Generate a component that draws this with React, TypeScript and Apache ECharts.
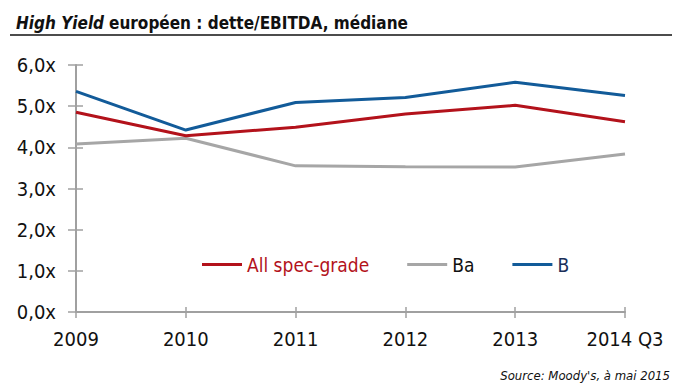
import React, { useEffect, useRef } from "react";
import * as echarts from "echarts";

const categories = ["2009", "2010", "2011", "2012", "2013", "2014 Q3"];
const allSpecGrade = [4.85, 4.28, 4.49, 4.81, 5.02, 4.62];
const ba = [4.08, 4.22, 3.55, 3.53, 3.52, 3.84];
const b = [5.36, 4.42, 5.09, 5.21, 5.58, 5.26];
const seriesNames = ["All spec-grade", "Ba", "B"];
const seriesColors = ["#b3121b", "#a6a6a6", "#125b99"];
const legendTextColors = ["#b3121b", "#111111", "#1a2f5a"];

const FONT = "'Liberation Sans Narrow', 'DejaVu Sans Condensed', 'Roboto', sans-serif";

export default function App() {
  const ref = useRef<HTMLDivElement>(null);
  useEffect(() => {
    if (!ref.current) return;
    const chart = echarts.init(ref.current, undefined, { renderer: "svg" });
    const axisColor = "#a0a0a0";
    const yCommon = {
      type: "value" as const,
      min: 0,
      max: 6,
      interval: 1,
      splitLine: { show: false },
    };
    const datasets = [allSpecGrade, ba, b];
    chart.setOption({
      animation: false,
      backgroundColor: "#ffffff",
      grid: { left: 76, right: 57, top: 65, bottom: 80, containLabel: false },
      title: {
        text: "{i|High Yield} {n|européen : dette/EBITDA, médiane}",
        left: 11,
        top: 9,
        textStyle: {
          rich: {
            i: { fontFamily: FONT, fontSize: 17, fontStyle: "italic", fontWeight: "bold", color: "#111" },
            n: { fontFamily: FONT, fontSize: 17, fontWeight: "bold", color: "#111" },
          },
        },
      },
      graphic: [
        { type: "line", shape: { x1: 10, y1: 35, x2: 672, y2: 35 }, style: { stroke: "#111", lineWidth: 1.5 } },
        {
          type: "text",
          right: 12,
          top: 369,
          style: { text: "Source: Moody's, à mai 2015", font: `italic 13px ${FONT}`, fill: "#111" },
        },
      ],
      legend: {
        left: 197,
        top: 250,
        icon: "rect",
        itemWidth: 40,
        itemHeight: 3,
        itemGap: 38,
        textStyle: { fontFamily: FONT, fontSize: 19 },
        data: seriesNames.map((n, i) => ({ name: n, textStyle: { color: legendTextColors[i] } })),
      },
      xAxis: [
        {
          type: "category",
          data: categories,
          boundaryGap: false,
          axisLine: { lineStyle: { color: axisColor, width: 2 } },
          axisTick: { show: true, length: 6, lineStyle: { color: axisColor, width: 1.5 } },
          axisLabel: { color: "#111", fontFamily: FONT, fontSize: 20, margin: 17 },
        },
        {
          type: "category",
          data: categories,
          boundaryGap: false,
          position: "bottom",
          axisLine: { show: false },
          axisTick: { show: true, inside: true, length: 5, lineStyle: { color: axisColor, width: 1.5 } },
          axisLabel: { show: false },
        },
      ],
      yAxis: [
        {
          ...yCommon,
          axisLine: { show: true, lineStyle: { color: axisColor, width: 2 } },
          axisTick: { show: true, length: 8, lineStyle: { color: axisColor, width: 1.5 } },
          axisLabel: {
            color: "#111",
            fontFamily: FONT,
            fontSize: 20,
            margin: 20,
            formatter: (v: number) => v.toFixed(1).replace(".", ",") + "x",
          },
        },
        {
          ...yCommon,
          position: "left",
          axisLine: { show: false },
          axisTick: { show: true, inside: true, length: 7, lineStyle: { color: axisColor, width: 1.5 } },
          axisLabel: { show: false },
        },
      ],
      series: seriesNames.map((n, i) => ({
        name: n,
        type: "line",
        data: datasets[i],
        symbol: "none",
        color: seriesColors[i],
        lineStyle: { width: 3, color: seriesColors[i] },
        z: i === 1 ? 2 : 3,
      })),
    });
    return () => chart.dispose();
  }, []);
  return <div ref={ref} style={{ width: 682, height: 392, position: "absolute", left: 0, top: 0 }} />;
}
